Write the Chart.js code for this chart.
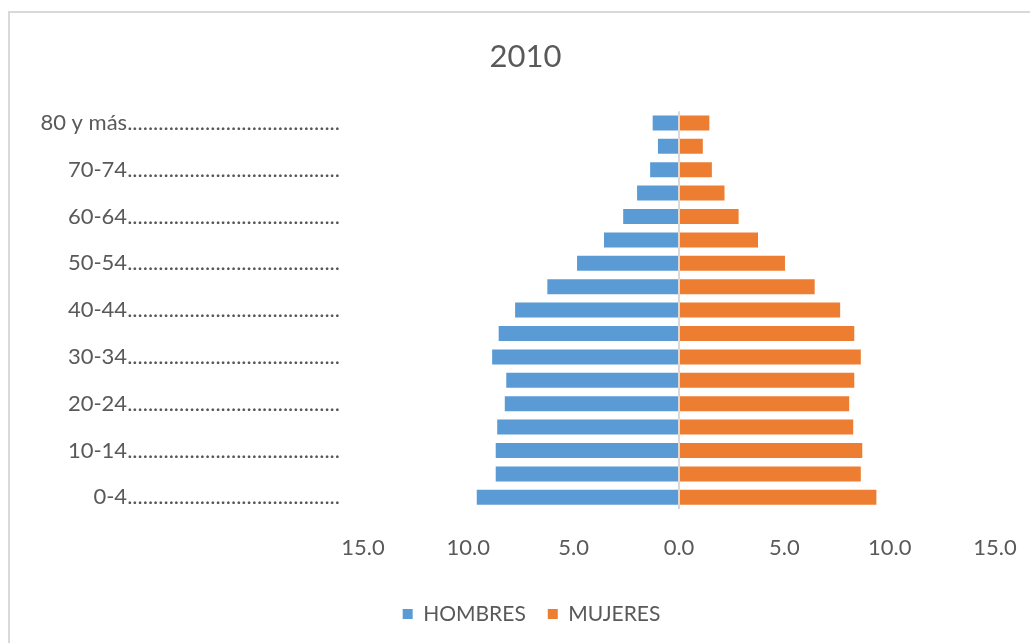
<!DOCTYPE html>
<html>
<head>
<meta charset="utf-8">
<script src="https://cdn.jsdelivr.net/npm/chart.js@4.4.1/dist/chart.umd.min.js"></script>
<style>
  html, body { margin: 0; padding: 0; background: #ffffff; }
  canvas { display: block; }
</style>
</head>
<body>
<canvas id="c" width="1030" height="643"></canvas>
<script>
// ---- data ----
const title = '2010';
const ageGroups = ['0-4', '5-9', '10-14', '15-19', '20-24', '25-29', '30-34', '35-39',
  '40-44', '45-49', '50-54', '55-59', '60-64', '65-69', '70-74', '75-79', '80 y más'];
const hombres = [9.60, 8.70, 8.70, 8.63, 8.27, 8.20, 8.87, 8.56,
  7.78, 6.25, 4.84, 3.56, 2.65, 1.99, 1.37, 1.00, 1.25];
const mujeres = [9.37, 8.63, 8.70, 8.27, 8.08, 8.32, 8.63, 8.32,
  7.65, 6.44, 5.03, 3.75, 2.83, 2.16, 1.56, 1.13, 1.44];
const seriesNames = ['HOMBRES', 'MUJERES'];
const xTicks = [-15, -10, -5, 0, 5, 10, 15];
const leader = '.........................................';

const textColor = '#595959';
const fontFamily = 'Lato, "Open Sans", sans-serif';

const framePlugin = {
  id: 'frame',
  afterLayout(chart) {
    // centre title and legend on the chart frame rather than the plot
    chart.titleBlock.left += 28; chart.titleBlock.right += 28;
    chart.legend.left += 34; chart.legend.right += 34;
  },
  beforeDraw(chart) {
    const ctx = chart.ctx;
    ctx.save();
    ctx.fillStyle = '#ffffff';
    ctx.fillRect(0, 0, chart.width, chart.height);
    ctx.strokeStyle = '#d9d9d9';
    ctx.lineWidth = 2;
    ctx.strokeRect(9, 12, 1200, 1200);
    ctx.restore();
  }
};

new Chart(document.getElementById('c'), {
  type: 'bar',
  data: {
    labels: ageGroups,
    datasets: [
      {
        label: seriesNames[0],
        data: hombres.map(v => -v),
        backgroundColor: '#5b9bd5',
        borderWidth: 0,
        barPercentage: 0.64,
        categoryPercentage: 1
      },
      {
        label: seriesNames[1],
        data: mujeres,
        backgroundColor: '#ed7d31',
        borderWidth: 0,
        barPercentage: 0.64,
        categoryPercentage: 1
      }
    ]
  },
  options: {
    indexAxis: 'y',
    responsive: false,
    animation: false,
    layout: { padding: { left: 0, right: 35, top: 0, bottom: 8.5 } },
    plugins: {
      title: {
        display: true,
        text: title,
        color: textColor,
        font: { family: fontFamily, size: 31, weight: 'normal' },
        padding: { top: 38, bottom: 36 }
      },
      legend: {
        position: 'bottom',
        labels: {
          color: textColor,
          font: { family: fontFamily, size: 21 },
          boxWidth: 10,
          boxHeight: 10,
          padding: 22
        }
      },
      tooltip: { enabled: false }
    },
    scales: {
      x: {
        type: 'linear',
        stacked: true,
        min: -15,
        max: 15,
        afterBuildTicks(scale) { scale.ticks = xTicks.map(v => ({ value: v })); },
        ticks: {
          color: textColor,
          font: { family: fontFamily, size: 22 },
          padding: 0,
          callback: v => Math.abs(v).toFixed(1)
        },
        grid: {
          z: 1,
          drawTicks: true,
          tickLength: 26,
          tickColor: 'rgba(0,0,0,0)',
          lineWidth: 2,
          color: ctx => (ctx.tick && ctx.tick.value === 0) ? '#d9d9d9' : 'rgba(0,0,0,0)'
        },
        border: { display: false },
        afterFit(scale) { scale.height = 72.5; }
      },
      y: {
        stacked: true,
        reverse: true,
        ticks: {
          color: textColor,
          font: { family: fontFamily, size: 22 },
          padding: 23,
          autoSkip: false,
          callback: function (value, index) {
            return index % 2 === 0 ? this.getLabelForValue(value) + leader : '';
          }
        },
        grid: { display: false, drawTicks: false },
        border: { display: false },
        afterFit(scale) { scale.width = 363; }
      }
    }
  },
  plugins: [framePlugin]
});
</script>
</body>
</html>
